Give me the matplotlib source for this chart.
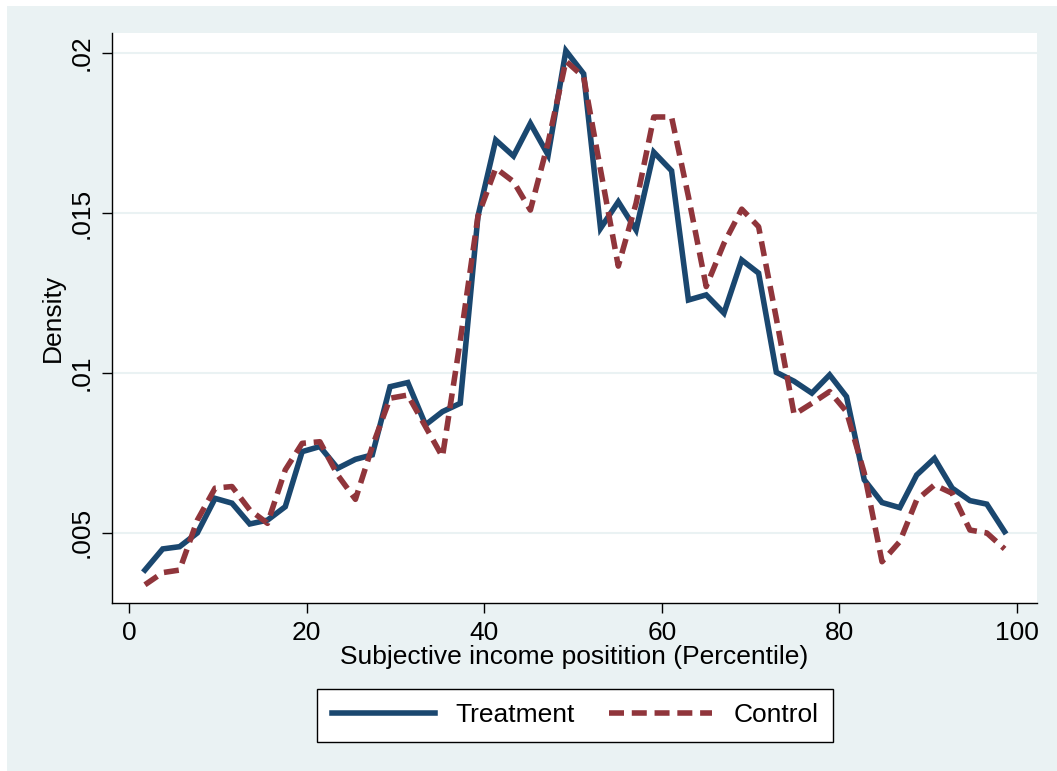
import matplotlib.pyplot as plt
from matplotlib.patches import Rectangle

plt.rcParams["font.family"] = ["Liberation Sans", "DejaVu Sans"]

# posições no eixo x (percentil)
percentil = [1.8, 3.8, 5.7, 7.7, 9.7, 11.6, 13.6, 15.6, 17.6, 19.5,
             21.5, 23.5, 25.5, 27.4, 29.4, 31.4, 33.4, 35.3, 37.3, 39.3,
             41.3, 43.3, 45.2, 47.2, 49.2, 51.2, 53.1, 55.1, 57.1, 59.1,
             61.1, 63.0, 65.0, 67.0, 69.0, 70.9, 72.9, 74.9, 76.9, 78.9,
             80.8, 82.8, 84.8, 86.8, 88.7, 90.7, 92.7, 94.7, 96.6, 98.6]

tratamento = [0.00384, 0.00450, 0.00457, 0.00500, 0.00608, 0.00593, 0.00528, 0.00540, 0.00582, 0.00754,
              0.00770, 0.00702, 0.00730, 0.00744, 0.00957, 0.00970, 0.00838, 0.00879, 0.00905, 0.01490,
              0.01728, 0.01678, 0.01780, 0.01681, 0.02007, 0.01935, 0.01452, 0.01535, 0.01447, 0.01690,
              0.01632, 0.01228, 0.01244, 0.01187, 0.01353, 0.01312, 0.01002, 0.00974, 0.00937, 0.00994,
              0.00926, 0.00666, 0.00595, 0.00579, 0.00681, 0.00733, 0.00640, 0.00601, 0.00590, 0.00504]

controle = [0.00338, 0.00376, 0.00384, 0.00540, 0.00640, 0.00645, 0.00572, 0.00530, 0.00697, 0.00780,
            0.00785, 0.00681, 0.00605, 0.00770, 0.00921, 0.00931, 0.00832, 0.00738, 0.01100, 0.01490,
            0.01640, 0.01598, 0.01509, 0.01720, 0.01975, 0.01925, 0.01635, 0.01334, 0.01530, 0.01800,
            0.01800, 0.01551, 0.01270, 0.01405, 0.01512, 0.01457, 0.01170, 0.00870, 0.00905, 0.00942,
            0.00879, 0.00687, 0.00410, 0.00473, 0.00603, 0.00650, 0.00624, 0.00509, 0.00500, 0.00450]

y_ticks = [0.005, 0.01, 0.015, 0.02]
y_rotulos = [".005", ".01", ".015", ".02"]
x_ticks = [0, 20, 40, 60, 80, 100]

fundo = "#EAF2F3"
azul = "#1A476F"
vinho = "#90353B"
fs = 19

fig = plt.figure(figsize=(10.57, 7.71), dpi=100)
fig.patch.set_facecolor("white")
fig.patches.append(Rectangle((7 / 1057, 0), 1, 1 - 6 / 771, transform=fig.transFigure,
                             facecolor=fundo, edgecolor="none", zorder=-10))

ax = fig.add_axes([112 / 1057, 1 - 603 / 771, (1037 - 112) / 1057, (603 - 33) / 771])
ax.set_zorder(1)
ax.set_facecolor("white")

ax.plot(percentil, tratamento, color=azul, lw=4, solid_joinstyle="miter", label="Treatment")
ax.plot(percentil, controle, color=vinho, lw=4, dashes=(2.7, 1.4), label="Control")

ax.set_xlim(-1.91, 102.25)
ax.set_ylim(0.00281, 0.020625)
ax.set_xticks(x_ticks)
ax.set_yticks(y_ticks)
ax.set_yticklabels(y_rotulos, rotation=90, va="center")
ax.tick_params(axis="both", direction="out", length=7, width=1, labelsize=fs, pad=6, color="black")
ax.grid(axis="y", color=fundo, lw=1.5)
ax.set_axisbelow(True)

for lado in ["top", "right"]:
    ax.spines[lado].set_visible(False)
for lado in ["left", "bottom"]:
    ax.spines[lado].set_linewidth(1)
    ax.spines[lado].set_color("black")

ax.set_xlabel("Subjective income positition (Percentile)", fontsize=fs, labelpad=0)
ax.set_ylabel("Density", fontsize=fs, labelpad=4)

leg = fig.legend(loc="center", bbox_to_anchor=(575 / 1057, 1 - 715.5 / 771), ncol=2,
                 fontsize=fs, handlelength=3.9, columnspacing=1.3, frameon=True,
                 fancybox=False, edgecolor="black", borderpad=0.55, framealpha=1)
leg.get_frame().set_linewidth(1)

fig.savefig("out.png", dpi=100, facecolor=fig.get_facecolor())
